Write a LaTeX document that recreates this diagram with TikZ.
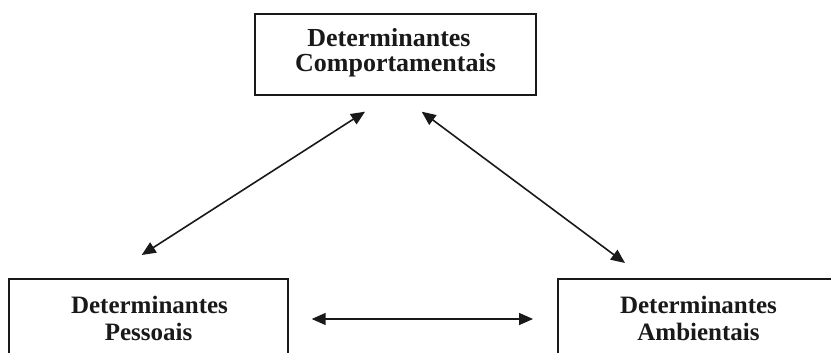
\documentclass[tikz,border=0pt]{standalone}
\usepackage{fontspec}
\setmainfont{Liberation Serif}
\usetikzlibrary{arrows.meta}
\begin{document}
\begin{tikzpicture}[x=1pt,y=-1pt,
  box/.style={draw=black!90, line width=1.5pt, inner sep=0pt},
  lbl/.style={anchor=base, inner sep=0pt, font=\bfseries\fontsize{25}{27}\selectfont, text=black!90},
  toplbl/.style={lbl, font=\bfseries\fontsize{26}{27}\selectfont},
  link/.style={line width=1.6pt, draw=black!90, {Triangle[length=14pt,width=12pt]}-{Triangle[length=14pt,width=12pt]}}]
\useasboundingbox (0,0) rectangle (831,353);
\clip (0,0) rectangle (831,353);
% boxes
\node[box, minimum width=281pt, minimum height=81pt] (comp) at (395.5,54.5) {};
\node[box, minimum width=279pt, minimum height=120pt] (pess) at (148.5,339) {};
\node[box, minimum width=300pt, minimum height=120pt] (amb) at (708,339) {};
% texts
\node[toplbl] (c1) at (389,47) {Determinantes};
\node[toplbl] (c2) at (395.5,72) {Comportamentais};
\node[lbl] (p1) at (149.5,313) {Determinantes};
\node[lbl] (p2) at (148.5,340) {Pessoais};
\node[lbl] (a1) at (698.5,313) {Determinantes};
\node[lbl] (a2) at (698.5,340) {Ambientais};
% arrow ends
\coordinate (l1) at (141.7,255);
\coordinate (l2) at (365,111.7);
\coordinate (r1) at (421.7,111.7);
\coordinate (r2) at (625,263);
\coordinate (h1) at (311.7,319);
\coordinate (h2) at (533,319);
\draw[link] (l1) -- (l2);
\draw[link] (r1) -- (r2);
\draw[link] (h1) -- (h2);
\end{tikzpicture}
\end{document}
